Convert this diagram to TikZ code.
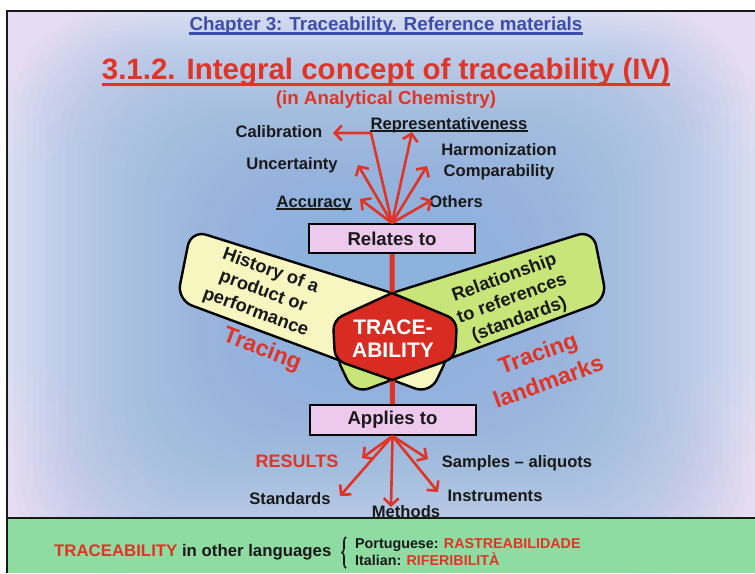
\documentclass[tikz,border=0pt]{standalone}
\usepackage{fontspec}
\setmainfont{Liberation Sans}
\usetikzlibrary{arrows.meta,calc,decorations.pathreplacing}
\definecolor{tred}{RGB}{224,52,38}
\definecolor{hexred}{RGB}{216,44,34}
\definecolor{chblue}{RGB}{62,78,168}
\definecolor{bgblue}{RGB}{138,178,221}
\definecolor{bglav}{RGB}{214,220,241}
\definecolor{bgpink}{RGB}{248,234,248}
\definecolor{bandyellow}{RGB}{247,246,192}
\definecolor{bandgreen}{RGB}{200,229,122}
\definecolor{boxpink}{RGB}{237,201,237}
\definecolor{footgreen}{RGB}{142,220,162}
\definecolor{ink}{RGB}{25,25,25}
\newcommand\fsz[2]{\fontsize{#1}{#2}\selectfont}
\begin{document}
\begin{tikzpicture}[x=1pt,y=-1pt,
  lbl/.style={inner sep=0pt, text=ink, font=\bfseries\fsz{16.6}{21}},
  stepbox/.style={draw=black, line width=2pt, fill=boxpink, minimum width=166pt, minimum height=29pt, inner sep=0pt, text=ink, font=\bfseries\fsz{18.6}{22}},
  arr/.style={draw=tred, line width=2.6pt, line join=round, -{Straight Barb[length=7pt,width=15pt]}},
  band/.style={draw=black, line width=2.4pt, line join=round},
  bandtxt/.style={inner sep=0pt, align=center, text=ink, font=\bfseries\fsz{18.3}{22}},
  tracetxt/.style={inner sep=0pt, align=center, text=tred, font=\bfseries\fsz{23}{30.5}},
  uline/.style={line width=1.5pt, ink}
]
\useasboundingbox (0,0) rectangle (755,573);
\fill[white] (0,0) rectangle (755,573);
\begin{scope}
  \clip (7,11) rectangle (755,573);
  \fill[bglav] (7,11) rectangle (755,573);
  % soft pink corners
  \foreach \cx/\cy in {7/11, 755/11, 7/518, 755/518}{
    \foreach \j in {0,...,19}{
      \pgfmathsetmacro\rr{25+7*\j}
      \fill[bgpink, opacity=0.055] (\cx,\cy) circle [radius=\rr pt];
    }
  }
  % blue centre
  \foreach \k in {1,...,44}{
    \pgfmathsetmacro\ax{7+6.5*\k}
    \pgfmathsetmacro\ay{11+4.75*\k}
    \pgfmathsetmacro\bx{755-6.5*\k}
    \pgfmathsetmacro\by{573-4.75*\k}
    \fill[bgblue, opacity=0.038, rounded corners=90pt] (\ax,\ay) rectangle (\bx,\by);
  }
\end{scope}
\fill[footgreen] (7,518) rectangle (755,573);
\draw[line width=2pt, ink] (7,518) -- (755,518);
\draw[line width=1.6pt, ink] (7,573) -- (7,11) -- (755,11);

% titles
\node[anchor=base, inner sep=0pt, text=chblue, font=\bfseries\fsz{18.8}{22}] (chap) at (386,30) {Chapter 3: Traceability. Reference materials};
\draw[chblue, line width=2.5pt] ($(chap.base west)+(0,3.5)$) -- ($(chap.base east)+(0,3.5)$);
\node[anchor=base, inner sep=0pt, text=tred, font=\bfseries\fsz{29.5}{34}] (title) at (386,79) {3.1.2. Integral concept of traceability (IV)};
\draw[tred, line width=3pt] ($(title.base west)+(0,5)$) -- ($(title.base east)+(0,5)$);
\node[anchor=base, inner sep=0pt, text=tred, font=\bfseries\fsz{18.8}{22}] (sub) at (386,104) {(in Analytical Chemistry)};

% boxes
\node[stepbox] (relbox) at (392,238.5) {Relates to};
\node[stepbox, minimum height=30pt] (appbox) at (392.5,420) {Applies to};

% bands
\coordinate (YD) at (392,293);
\coordinate (YA) at (191,230);
\coordinate (YB) at (177,300);
\coordinate (YC) at (430,394);
\coordinate (YE) at (450,352);
\coordinate (GD) at (392,293);
\coordinate (GA) at (593,230);
\coordinate (GB) at (607,300);
\coordinate (GC) at (354,394);
\coordinate (GE) at (334,352);
\filldraw[band, fill=bandyellow] (YD) -- ($(YD)!0.4!(YA)$) [rounded corners=16pt] -- (YA) -- (YB) -- (YC) -- (YE) -- ($(YE)!0.5!(YD)$) [sharp corners] -- (YD) -- cycle;
\filldraw[band, fill=bandgreen] (GD) -- ($(GD)!0.4!(GA)$) [rounded corners=16pt] -- (GA) -- (GB) -- (GC) -- (GE) -- ($(GE)!0.5!(GD)$) [sharp corners] -- (GD) -- cycle;
\node[bandtxt, rotate=-20] (hist) at (263,292) {History of a\\product or\\performance};
\node[bandtxt, rotate=20] (relref) at (512,299) {Relationship\\to references\\(standards)};

% vertical red line
\draw[tred, line width=5pt] (relbox.south) -- (appbox.north);

% hexagon
\coordinate (hT) at (392,293);
\coordinate (hUR) at (457,320);
\coordinate (hLR) at (455,358);
\coordinate (hB) at (392,380);
\coordinate (hLL) at (335,360);
\coordinate (hUL) at (333,320);
\filldraw[fill=hexred, draw=black, line width=2.4pt, line join=round] (hT) -- ($(hT)!0.5!(hUR)$) [rounded corners=10pt] -- (hUR) -- (hLR) -- ($(hLR)!0.5!(hB)$) [sharp corners] -- (hB) -- ($(hB)!0.5!(hLL)$) [rounded corners=10pt] -- (hLL) -- (hUL) -- ($(hUL)!0.5!(hT)$) [sharp corners] -- cycle;
\node[inner sep=0pt, align=center, text=white, font=\bfseries\fsz{21}{23.5}] (trace) at (393,338.5) {TRACE-\\ABILITY};

% redraw boxes over the line ends
\node[stepbox] at (relbox) {Relates to};
\node[stepbox, minimum height=30pt] at (appbox) {Applies to};

% upper labels
\node[lbl, anchor=base] (calib) at (279,137) {Calibration};
\node[lbl, anchor=base] (repr) at (449,129) {Representativeness};
\draw[uline] ($(repr.base west)+(0,2)$) -- ($(repr.base east)+(0,2)$);
\node[lbl, anchor=base] (uncert) at (292,169) {Uncertainty};
\node[lbl, anchor=base] (harm) at (499,155) {Harmonization};
\node[lbl, anchor=base] (comp) at (499,176) {Comparability};
\node[lbl, anchor=base] (accu) at (314,207) {Accuracy};
\draw[uline] ($(accu.base west)+(0,2)$) -- ($(accu.base east)+(0,2)$);
\node[lbl, anchor=base] (others) at (456,207) {Others};

% upper arrows
\coordinate (calBend) at (371,133);
\coordinate (calTip) at (333,133);
\coordinate (reprTip) at (412,132);
\coordinate (uncTip) at (358,165);
\coordinate (harmTip) at (427,166);
\coordinate (accTip) at (360,199);
\coordinate (othTip) at (432,200);
\draw[arr] (relbox.north) -- (calBend) -- (calTip);
\draw[arr] (relbox.north) -- (reprTip);
\draw[arr] (relbox.north) -- (uncTip);
\draw[arr] (relbox.north) -- (harmTip);
\draw[arr] (relbox.north) -- (accTip);
\draw[arr] (relbox.north) -- (othTip);

% lower labels
\node[inner sep=0pt, anchor=base, text=tred, font=\bfseries\fsz{18}{21}] (results) at (297,467) {RESULTS};
\node[lbl, anchor=base] (samples) at (517,467) {Samples – aliquots};
\node[lbl, anchor=base] (standards) at (290,504) {Standards};
\node[lbl, anchor=base] (methods) at (406,517) {Methods};
\node[lbl, anchor=base] (instr) at (495,501) {Instruments};

% lower arrows
\coordinate (resTip) at (362,458);
\coordinate (samTip) at (428,459);
\coordinate (staTip) at (340,496);
\coordinate (metTip) at (391,507);
\coordinate (insTip) at (438,492);
\draw[arr] (appbox.south) -- (resTip);
\draw[arr] (appbox.south) -- (samTip);
\draw[arr] (appbox.south) -- (staTip);
\draw[arr] (appbox.south) -- (metTip);
\draw[arr] (appbox.south) -- (insTip);

% tracing labels
\node[tracetxt, rotate=-21] (trL) at (262,350) {Tracing};
\node[tracetxt, rotate=20] (trR) at (543,367) {Tracing\\landmarks};

% footer
\node[anchor=base west, inner sep=0pt, text=ink, font=\bfseries\fsz{16.8}{20}] (foot) at (54,556) {\textcolor{tred}{TRACEABILITY} in other languages};
\draw[decorate, decoration={brace, amplitude=4pt}, line width=1.6pt, ink] (346,568) -- (346,537);
\node[anchor=base west, inner sep=0pt, text=ink, font=\bfseries\fsz{14.3}{17}] (pt) at (355,548) {Portuguese: \textcolor{tred}{RASTREABILIDADE}};
\node[anchor=base west, inner sep=0pt, text=ink, font=\bfseries\fsz{14.3}{17}] (it) at (355,565) {Italian: \textcolor{tred}{RIFERIBILITÀ}};
\end{tikzpicture}
\end{document}
